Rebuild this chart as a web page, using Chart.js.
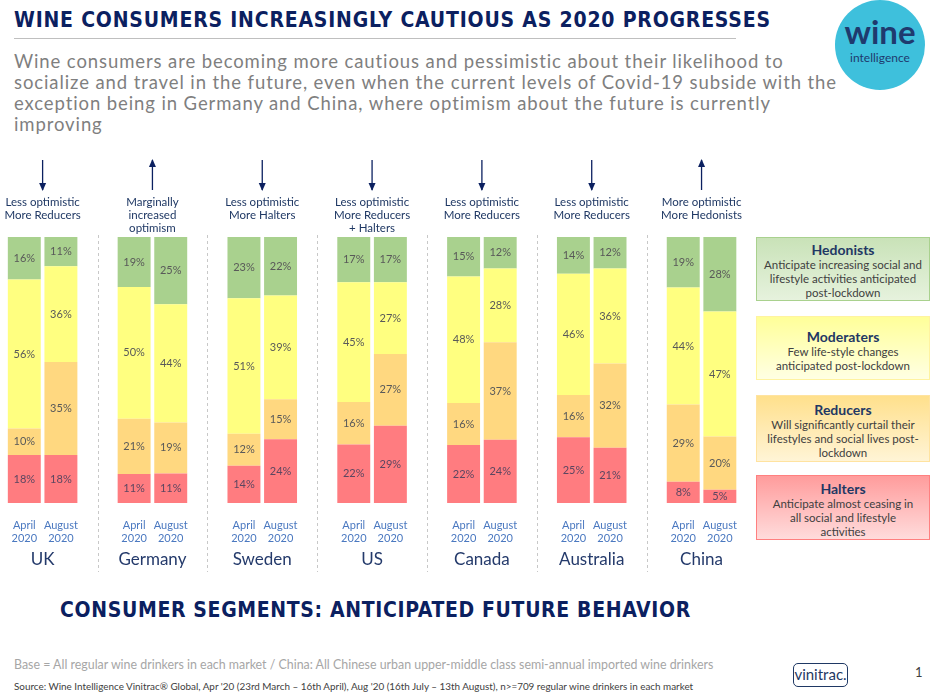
<!DOCTYPE html>
<html>
<head>
<meta charset="utf-8">
<script src="https://cdn.jsdelivr.net/npm/chart.js@4/dist/chart.umd.min.js"></script>
<style>
  body { margin: 0; width: 941px; height: 697px; background: #fff; position: relative; overflow: hidden; font-family: 'Lato', sans-serif; }
  .abs { position: absolute; }
  #title { left: 14px; top: 8px; font-family: 'DejaVu Sans Condensed', 'DejaVu Sans', sans-serif; font-weight: bold; font-size: 21px; color: #0b2060; white-space: nowrap; letter-spacing: 0.8px; }
  #rule { left: 14px; top: 38px; width: 722px; height: 1px; background: #bfbfbf; }
  #sub { left: 14px; top: 51px; font-size: 18.5px; line-height: 21px; color: #7f7f7f; white-space: nowrap; letter-spacing: 0.9px; }
  #logo { left: 835px; top: 0px; width: 90px; height: 90px; border-radius: 50%; background: #3ec0dc; text-align: center; }
  #logo .w { position: absolute; left: 0; right: 0; top: 15px; font-size: 33px; font-weight: bold; color: #1f3a6e; line-height: 33px; }
  #logo .i { position: absolute; left: 0; right: 0; top: 50px; font-size: 12px; color: #1f3a6e; }
  .seg { left: 756px; width: 174px; box-sizing: border-box; text-align: center; padding-top: 4px; }
  .seg b { display: block; font-size: 14px; color: #1f3864; line-height: 16px; }
  .seg span { display: block; font-size: 11.5px; color: #404040; line-height: 14px; white-space: nowrap; }
  #bottom { left: 60px; top: 598px; font-family: 'DejaVu Sans Condensed', 'DejaVu Sans', sans-serif; font-weight: bold; font-size: 21px; color: #0b2060; white-space: nowrap; letter-spacing: 0.65px; }
  #base { left: 14px; top: 657px; font-size: 12.4px; color: #a6a6a6; white-space: nowrap; }
  #source { left: 14px; top: 680px; font-size: 9.9px; color: #404040; white-space: nowrap; }
  #vini { left: 793px; top: 663px; width: 55px; height: 24px; box-sizing: border-box; border: 1.5px solid #1f3864; border-radius: 5px; font-size: 15px; color: #1f3864; text-align: center; line-height: 20px; }
  #page { left: 915px; top: 664px; font-size: 13px; color: #404040; }
  #chart { position: absolute; left: 0; top: 150px; }
</style>
</head>
<body>
<div id="title" class="abs">WINE CONSUMERS INCREASINGLY CAUTIOUS AS 2020 PROGRESSES</div>
<div id="rule" class="abs"></div>
<div id="sub" class="abs">Wine consumers are becoming more cautious and pessimistic about their likelihood to<br>socialize and travel in the future, even when the current levels of Covid-19 subside with the<br>exception being in Germany and China, where optimism about the future is currently<br>improving</div>
<div id="logo" class="abs"><div class="w">wine</div><div class="i">intelligence</div></div>

<div class="abs seg" style="top:237px;height:64px;background:linear-gradient(#c9e2b8,#e6f2dd);border:1px solid #a9d18e;"><b>Hedonists</b><span>Anticipate increasing social and<br>lifestyle activities anticipated<br>post-lockdown</span></div>
<div class="abs seg" style="top:316px;height:64px;padding-top:12px;background:linear-gradient(#ffff99,#ffffe3);border:1px solid #fff3a0;"><b>Moderaters</b><span>Few life-style changes<br>anticipated post-lockdown</span></div>
<div class="abs seg" style="top:395px;height:67px;padding-top:6px;background:linear-gradient(#ffe08c,#fff4d6);border:1px solid #ffe3a0;"><b>Reducers</b><span>Will significantly curtail their<br>lifestyles and social lives post-<br>lockdown</span></div>
<div class="abs seg" style="top:475px;height:65px;padding-top:5px;background:linear-gradient(#ff9c9c,#ffdcdc);border:1px solid #ff8080;"><b>Halters</b><span>Anticipate almost ceasing in<br>all social and lifestyle<br>activities</span></div>

<canvas id="chart" width="745" height="430"></canvas>

<div id="bottom" class="abs">CONSUMER SEGMENTS: ANTICIPATED FUTURE BEHAVIOR</div>
<div id="base" class="abs">Base = All regular wine drinkers in each market / China: All Chinese urban upper-middle class semi-annual imported wine drinkers</div>
<div id="source" class="abs">Source: Wine Intelligence Vinitrac® Global, Apr '20 (23rd March – 16th April), Aug '20 (16th July – 13th August), n&gt;=709 regular wine drinkers in each market</div>
<div id="vini" class="abs">vinitrac.</div>
<div id="page" class="abs">1</div>

<script>
// Markets and the annotation above each pair of bars
const countries = ['UK', 'Germany', 'Sweden', 'US', 'Canada', 'Australia', 'China'];
const notes = [
  ['Less optimistic', 'More Reducers'],
  ['Marginally', 'increased', 'optimism'],
  ['Less optimistic', 'More Halters'],
  ['Less optimistic', 'More Reducers', '+ Halters'],
  ['Less optimistic', 'More Reducers'],
  ['Less optimistic', 'More Reducers'],
  ['More optimistic', 'More Hedonists']
];
const arrowUp = [false, true, false, false, false, false, true];
const waves = [['April', '2020'], ['August', '2020']];

// Segment shares (%), April then August for each market
const haltersApr    = [18, 11, 14, 22, 22, 25, 8];
const haltersAug    = [18, 11, 24, 29, 24, 21, 5];
const reducersApr   = [10, 21, 12, 16, 16, 16, 29];
const reducersAug   = [35, 19, 15, 27, 37, 32, 20];
const moderatersApr = [56, 50, 51, 45, 48, 46, 44];
const moderatersAug = [36, 44, 39, 27, 28, 36, 47];
const hedonistsApr  = [16, 19, 23, 17, 15, 14, 19];
const hedonistsAug  = [11, 25, 22, 17, 12, 12, 28];

const segNames = ['Halters', 'Reducers', 'Moderaters', 'Hedonists'];
const segColors = ['#ff7c80', '#ffd880', '#ffff80', '#a9d18e'];
const segApr = [haltersApr, reducersApr, moderatersApr, hedonistsApr];
const segAug = [haltersAug, reducersAug, moderatersAug, hedonistsAug];

// categories: April, August, spacer for each market (no spacer after the last)
const labels = [];
const pairIdx = [];
countries.forEach((c, i) => {
  pairIdx.push([labels.length, labels.length + 1]);
  labels.push(waves[0], waves[1]);
  if (i < countries.length - 1) labels.push('');
});

function totalOf(i, aug) {
  return (aug ? segAug : segApr).reduce((s, arr) => s + arr[i], 0);
}

// bars are drawn as shares of 100% so every column is full height
const datasets = segNames.map((name, s) => {
  const data = [];
  const raw = [];
  countries.forEach((c, i) => {
    const a = segApr[s][i], b = segAug[s][i];
    data.push(a / totalOf(i, false) * 100, b / totalOf(i, true) * 100);
    raw.push(a, b);
    if (i < countries.length - 1) { data.push(null); raw.push(null); }
  });
  return { label: name, data, raw, backgroundColor: segColors[s], borderWidth: 0,
           categoryPercentage: 1, barPercentage: 0.9 };
});

const decorations = {
  id: 'decorations',
  afterDatasetsDraw(chart) {
    const ctx = chart.ctx;
    const x = chart.scales.x;
    ctx.save();
    // value labels
    ctx.textAlign = 'center';
    ctx.textBaseline = 'middle';
    ctx.font = '11px Lato, sans-serif';
    chart.data.datasets.forEach((ds, d) => {
      chart.getDatasetMeta(d).data.forEach((bar, k) => {
        if (ds.raw[k] == null) return;
        ctx.fillStyle = d === 0 ? '#5c4660' : '#595959';
        const mid = (bar.y + bar.base) / 2;
        ctx.fillText(ds.raw[k] + '%', bar.x, mid);
      });
    });
    // dashed separators between markets
    ctx.strokeStyle = '#c8c8c8';
    ctx.lineWidth = 1;
    ctx.setLineDash([3, 3]);
    labels.forEach((l, k) => {
      if (l !== '') return;
      const px = Math.round(x.getPixelForValue(k)) + 0.5;
      ctx.beginPath();
      ctx.moveTo(px, 85);
      ctx.lineTo(px, 422);
      ctx.stroke();
    });
    ctx.setLineDash([]);
    // market names, arrows and notes
    countries.forEach((c, i) => {
      const cx = (x.getPixelForValue(pairIdx[i][0]) + x.getPixelForValue(pairIdx[i][1])) / 2;
      ctx.fillStyle = '#243a6b';
      ctx.font = '17px Lato, sans-serif';
      ctx.fillText(c, cx, 410);

      ctx.strokeStyle = '#0b2060';
      ctx.fillStyle = '#0b2060';
      ctx.lineWidth = 1.3;
      const top = 10, bot = 40;
      ctx.beginPath();
      ctx.moveTo(cx, top);
      ctx.lineTo(cx, bot);
      ctx.stroke();
      ctx.beginPath();
      if (arrowUp[i]) {
        ctx.moveTo(cx, top - 1); ctx.lineTo(cx - 3.5, top + 7); ctx.lineTo(cx + 3.5, top + 7);
      } else {
        ctx.moveTo(cx, bot + 1); ctx.lineTo(cx - 3.5, bot - 7); ctx.lineTo(cx + 3.5, bot - 7);
      }
      ctx.closePath();
      ctx.fill();

      ctx.fillStyle = '#1f3864';
      ctx.font = '11.5px Lato, sans-serif';
      notes[i].forEach((line, j) => ctx.fillText(line, cx, 52 + j * 13));
    });
    ctx.restore();
  }
};

new Chart(document.getElementById('chart'), {
  type: 'bar',
  data: { labels, datasets },
  options: {
    responsive: false,
    animation: false,
    layout: { padding: { left: 6, right: 6, top: 87, bottom: 0 } },
    plugins: { legend: { display: false }, tooltip: { enabled: false } },
    scales: {
      x: {
        stacked: true,
        grid: { display: false },
        border: { display: false },
        ticks: { color: '#4a78c0', font: { size: 11, family: 'Lato' }, padding: 8, maxRotation: 0, autoSkip: false },
        afterFit(s) { s.height = 77; }
      },
      y: { stacked: true, display: false, min: 0, max: 100 }
    }
  },
  plugins: [decorations]
});
</script>
</body>
</html>
